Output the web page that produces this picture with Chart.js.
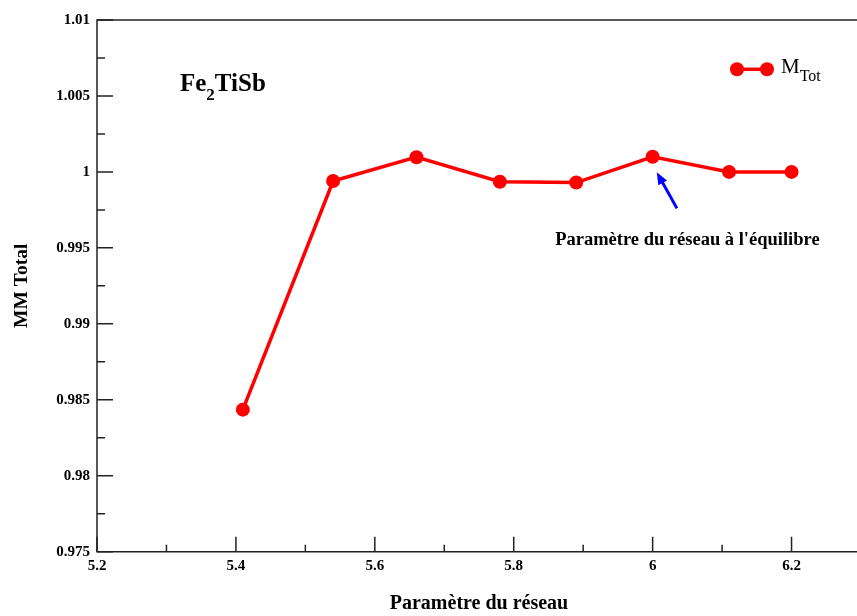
<!DOCTYPE html>
<html>
<head>
<meta charset="utf-8">
<script src="https://cdn.jsdelivr.net/npm/chart.js@4.4.1/dist/chart.umd.min.js"></script>
<style>
  html, body { margin: 0; padding: 0; overflow: hidden; background: #fff; }
  #chart { display: block; }
</style>
</head>
<body>
<canvas id="chart" width="861" height="616"></canvas>
<script>
// lattice parameter vs total magnetic moment, Fe2TiSb
const latticeParams = [5.41, 5.54, 5.66, 5.78, 5.89, 6.00, 6.11, 6.20];
const totalMoment = [0.98435, 0.9994, 1.00097, 0.99935, 0.9993, 1.0010, 1.0000, 1.0000];

const xMajorTicks = [5.2, 5.4, 5.6, 5.8, 6.0, 6.2];
const xMinorTicks = [5.3, 5.5, 5.7, 5.9, 6.1, 6.3];
const yMajorTicks = [0.975, 0.98, 0.985, 0.99, 0.995, 1.0, 1.005, 1.01];
const yMinorTicks = [0.9775, 0.9825, 0.9875, 0.9925, 0.9975, 1.0025, 1.0075];

const SERIF = "'Liberation Serif', 'Times New Roman', serif";
const RED = '#ff0000';
const INK = '#222';

function fmt(v, d) {
  return String(Number(v.toFixed(d)));
}

// frame + inward tick marks, like the original plot
const framePlugin = {
  id: 'frame',
  beforeDatasetsDraw(chart) {
    const {ctx, chartArea: a, scales: {x, y}} = chart;
    ctx.save();
    ctx.strokeStyle = INK;
    ctx.lineWidth = 1.5;
    ctx.beginPath();
    ctx.moveTo(a.right + 2, a.top);
    ctx.lineTo(a.left, a.top);
    ctx.lineTo(a.left, a.bottom);
    ctx.lineTo(a.right + 2, a.bottom);
    ctx.stroke();

    ctx.beginPath();
    xMajorTicks.forEach(v => {
      const px = x.getPixelForValue(v);
      ctx.moveTo(px, a.bottom); ctx.lineTo(px, a.bottom - 15);
    });
    xMinorTicks.forEach(v => {
      const px = x.getPixelForValue(v);
      ctx.moveTo(px, a.bottom); ctx.lineTo(px, a.bottom - 7);
    });
    yMajorTicks.forEach(v => {
      const py = y.getPixelForValue(v);
      ctx.moveTo(a.left, py); ctx.lineTo(a.left + 16, py);
    });
    yMinorTicks.forEach(v => {
      const py = y.getPixelForValue(v);
      ctx.moveTo(a.left, py); ctx.lineTo(a.left + 8, py);
    });
    ctx.stroke();
    ctx.restore();
  },
  afterDatasetsDraw(chart) {
    const {ctx, scales: {x, y}} = chart;
    ctx.save();
    ctx.fillStyle = '#000';
    ctx.textBaseline = 'alphabetic';
    ctx.textAlign = 'left';

    // compound label
    let tx = x.getPixelForValue(5.3195);
    const ty = y.getPixelForValue(1.00535);
    ctx.font = 'bold 25px ' + SERIF;
    ctx.fillText('Fe', tx, ty);
    tx += ctx.measureText('Fe').width;
    ctx.font = 'bold 17px ' + SERIF;
    ctx.fillText('2', tx, ty + 9);
    tx += ctx.measureText('2').width;
    ctx.font = 'bold 25px ' + SERIF;
    ctx.fillText('TiSb', tx, ty);

    // equilibrium note + arrow
    ctx.font = 'bold 18.5px ' + SERIF;
    ctx.textAlign = 'center';
    ctx.fillText("Paramètre du réseau à l'équilibre", x.getPixelForValue(6.05), y.getPixelForValue(0.99518));

    const x0 = x.getPixelForValue(6.035), y0 = y.getPixelForValue(0.9976);
    const x1 = x.getPixelForValue(6.006), y1 = y.getPixelForValue(0.99997);
    const ang = Math.atan2(y1 - y0, x1 - x0);
    ctx.strokeStyle = '#0000ff';
    ctx.fillStyle = '#0000ff';
    ctx.lineWidth = 3;
    ctx.beginPath();
    ctx.moveTo(x0, y0);
    ctx.lineTo(x1 - 8 * Math.cos(ang), y1 - 8 * Math.sin(ang));
    ctx.stroke();
    ctx.beginPath();
    ctx.moveTo(x1, y1);
    ctx.lineTo(x1 - 12 * Math.cos(ang) + 5 * Math.sin(ang), y1 - 12 * Math.sin(ang) - 5 * Math.cos(ang));
    ctx.lineTo(x1 - 12 * Math.cos(ang) - 5 * Math.sin(ang), y1 - 12 * Math.sin(ang) + 5 * Math.cos(ang));
    ctx.closePath();
    ctx.fill();

    // legend
    const ly = 69.3;
    ctx.strokeStyle = RED;
    ctx.fillStyle = RED;
    ctx.lineWidth = 3.5;
    ctx.beginPath();
    ctx.moveTo(737, ly); ctx.lineTo(767, ly);
    ctx.stroke();
    [737, 767].forEach(cx => {
      ctx.beginPath();
      ctx.arc(cx, ly, 7, 0, Math.PI * 2);
      ctx.fill();
    });
    ctx.fillStyle = '#000';
    ctx.textAlign = 'left';
    ctx.font = '21px ' + SERIF;
    ctx.fillText('M', 781, 73.3);
    const mw = ctx.measureText('M').width;
    ctx.font = '16px ' + SERIF;
    ctx.fillText('Tot', 781 + mw, 80.7);
    ctx.restore();
  }
};

new Chart(document.getElementById('chart'), {
  type: 'line',
  data: {
    datasets: [{
      label: 'MTot',
      data: latticeParams.map((v, i) => ({x: v, y: totalMoment[i]})),
      borderColor: RED,
      backgroundColor: RED,
      borderWidth: 3.5,
      pointRadius: 7,
      pointHoverRadius: 7,
      pointBorderWidth: 0,
      tension: 0,
      clip: false
    }]
  },
  options: {
    responsive: false,
    animation: false,
    events: [],
    layout: { autoPadding: false, padding: { top: 20, left: 0, right: 0, bottom: 0 } },
    plugins: { legend: { display: false }, tooltip: { enabled: false } },
    scales: {
      x: {
        type: 'linear',
        min: 5.2,
        max: 6.3,
        afterFit(scale) {
          scale.height = 64.3;
          scale.paddingLeft = 0;
          scale.paddingRight = 0;
        },
        afterBuildTicks(scale) {
          scale.ticks = xMajorTicks.map(v => ({value: v}));
        },
        grid: { display: false, drawTicks: false },
        border: { display: false },
        ticks: {
          autoSkip: false,
          maxRotation: 0,
          padding: 5,
          color: '#000',
          font: { family: SERIF, size: 15, weight: 'bold' },
          callback: v => fmt(v, 1)
        },
        title: {
          display: true,
          text: 'Paramètre du réseau',
          color: '#000',
          padding: { top: 0, bottom: 0 },
          font: { family: SERIF, size: 20, weight: 'bold' }
        }
      },
      y: {
        type: 'linear',
        min: 0.975,
        max: 1.01,
        afterFit(scale) { scale.width = 97; },
        afterBuildTicks(scale) {
          scale.ticks = yMajorTicks.map(v => ({value: v}));
        },
        grid: { display: false, drawTicks: false },
        border: { display: false },
        ticks: {
          autoSkip: false,
          padding: 7,
          color: '#000',
          font: { family: SERIF, size: 15, weight: 'bold' },
          callback: v => fmt(v, 3)
        },
        title: {
          display: true,
          text: 'MM Total',
          color: '#000',
          padding: { top: 10, bottom: 0 },
          font: { family: SERIF, size: 19.5, weight: 'bold' }
        }
      }
    }
  },
  plugins: [framePlugin]
});
</script>
</body>
</html>
